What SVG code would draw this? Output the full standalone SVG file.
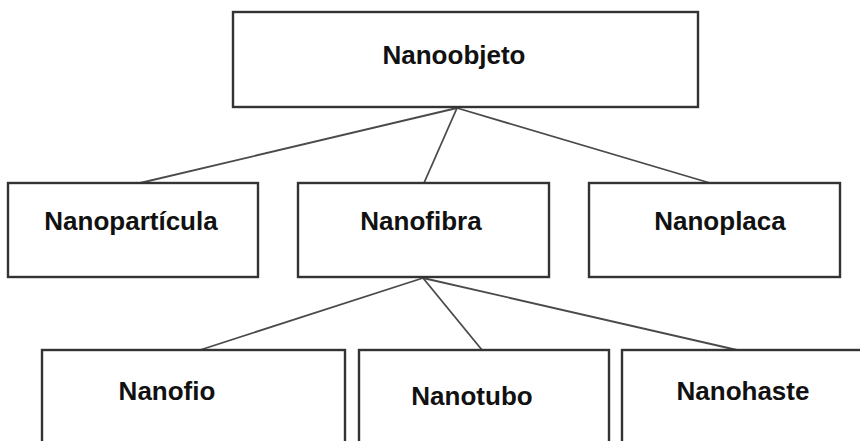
<svg xmlns="http://www.w3.org/2000/svg" width="860" height="441" viewBox="0 0 860 441">
<style>
.box{fill:#fff;stroke:#333;stroke-width:2.4}
.lbl{font-family:"Liberation Sans",Arial,sans-serif;font-weight:bold;font-size:26px;fill:#111;text-anchor:middle}
.con{stroke:#4a4a4a;stroke-width:1.8;fill:none}
</style>
<rect width="860" height="441" fill="#fff"/>
<g id="connectors">
<line class="con" x1="457" y1="108" x2="140" y2="183"/>
<line class="con" x1="457" y1="108" x2="424" y2="183"/>
<line class="con" x1="457" y1="108" x2="710" y2="183"/>
<line class="con" x1="423" y1="278" x2="200" y2="350"/>
<line class="con" x1="423" y1="278" x2="482" y2="350"/>
<line class="con" x1="423" y1="278" x2="737" y2="350"/>
</g>
<g id="nanoobjeto"><rect class="box" x="233" y="12" width="465" height="95"/><text class="lbl" x="454" y="64">Nanoobjeto</text></g>
<g id="nanoparticula"><rect class="box" x="8" y="183" width="250" height="94"/><text class="lbl" x="131" y="230">Nanopartícula</text></g>
<g id="nanofibra"><rect class="box" x="298" y="183" width="251" height="94"/><text class="lbl" x="421" y="230">Nanofibra</text></g>
<g id="nanoplaca"><rect class="box" x="589" y="183" width="251" height="94"/><text class="lbl" x="720" y="230">Nanoplaca</text></g>
<g id="nanofio"><rect class="box" x="42" y="350" width="303" height="110"/><text class="lbl" x="167" y="400">Nanofio</text></g>
<g id="nanotubo"><rect class="box" x="359" y="350" width="250" height="110"/><text class="lbl" x="472" y="405">Nanotubo</text></g>
<g id="nanohaste"><rect class="box" x="622" y="350" width="260" height="110"/><text class="lbl" x="743" y="400">Nanohaste</text></g>
</svg>
